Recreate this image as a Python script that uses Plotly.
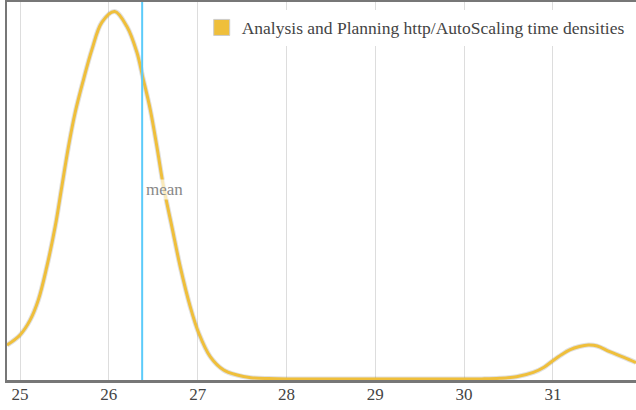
import plotly.graph_objects as go

# Kernel density estimate of the Analysis and Planning http/AutoScaling time
time_s = [24.853, 25.0, 25.113, 25.206, 25.301, 25.395, 25.470, 25.545,
          25.620, 25.714, 25.809, 25.921, 26.065, 26.203, 26.316, 26.38,
          26.466, 26.541, 26.616, 26.71, 26.804, 26.917, 27.011, 27.143, 27.293,
          27.444, 27.6, 27.8, 28.0, 28.5, 29.0, 29.5, 30.0, 30.2, 30.4, 30.59,
          30.78, 30.9, 31.0, 31.1, 31.19, 31.3, 31.4, 31.5, 31.64, 31.8, 31.936]
density = [0.072, 0.0935, 0.125, 0.168, 0.238, 0.323, 0.408, 0.493,
           0.565, 0.635, 0.699, 0.757, 0.780, 0.748, 0.693, 0.642,
           0.572, 0.493, 0.408, 0.323, 0.238, 0.153, 0.098, 0.047, 0.019,
           0.0085, 0.003, 0.001, 0.0002, 0.0, 0.0, 0.0, 0.0, 0.0003, 0.0015, 0.005,
           0.014, 0.025, 0.039, 0.052, 0.062, 0.069, 0.072, 0.070, 0.058, 0.046, 0.035]

mean_time = 26.375
x_ticks = [25, 26, 27, 28, 29, 30, 31]
series_name = "Analysis and Planning http/AutoScaling time densities"

GOLD = "#EFBF3B"
SERIF = "Liberation Serif, Times New Roman, serif"

fig = go.Figure()

# faint shadow below the density curve
fig.add_trace(go.Scatter(
    x=time_s, y=density, mode="lines",
    line=dict(color="rgba(0,0,0,0.12)", width=5, shape="spline", smoothing=1.0),
    hoverinfo="skip", showlegend=False,
))
fig.add_trace(go.Scatter(
    x=time_s, y=density, mode="lines",
    line=dict(color=GOLD, width=3, shape="spline", smoothing=1.0),
    name=series_name, showlegend=False,
))
# legend entry drawn as a filled square swatch
fig.add_trace(go.Scatter(
    x=[None], y=[None], mode="markers", name=series_name,
    marker=dict(symbol="square", size=17, color=GOLD,
                line=dict(color="#cccccc", width=1)),
))

# mean marker line
fig.add_shape(type="line", xref="x", yref="paper",
              x0=mean_time, x1=mean_time, y0=0, y1=1,
              line=dict(color="#5CCBFA", width=2))
fig.add_annotation(x=mean_time, y=0.503, xref="x", yref="paper",
                   text="mean", showarrow=False, xanchor="left", xshift=3,
                   font=dict(family=SERIF, size=17, color="#888888"),
                   bgcolor="rgba(255,255,255,0.65)", borderpad=0)

fig.update_layout(
    width=636, height=410,
    margin=dict(l=7, r=0, t=2, b=30),
    paper_bgcolor="white", plot_bgcolor="white",
    font=dict(family=SERIF, size=17, color="#444444"),
    showlegend=True,
    legend=dict(x=0.99, y=0.98, xanchor="right", yanchor="top",
                bgcolor="white", borderwidth=0,
                font=dict(family=SERIF, size=17.5, color="#444444"),
                itemwidth=30),
    xaxis=dict(range=[24.853, 31.936], tickvals=x_ticks,
               ticktext=[str(t) for t in x_ticks],
               showgrid=True, gridcolor="#dddddd", gridwidth=1,
               showline=True, linecolor="#777777", linewidth=3, mirror=True,
               zeroline=False, ticks="", ticklabelstandoff=-3,
               tickfont=dict(family=SERIF, size=17, color="#444444")),
    yaxis=dict(range=[-0.002, 0.800], showgrid=False, showticklabels=False,
               showline=True, linecolor="#777777", linewidth=2,
               zeroline=False, ticks=""),
)

fig.write_html("out.html")
